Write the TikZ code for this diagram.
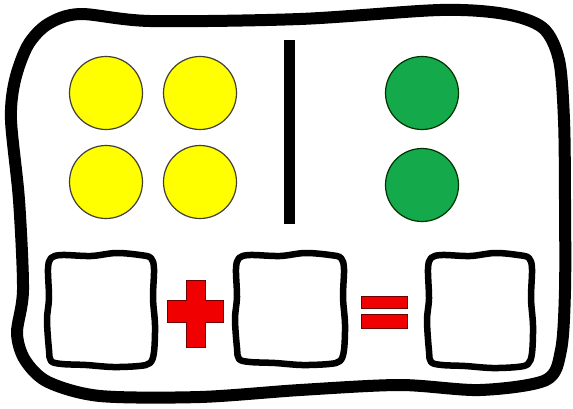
\documentclass[tikz,border=0pt]{standalone}
\usepackage{tikz}
\definecolor{dotyellow}{RGB}{255,255,0}
\definecolor{dotgreen}{RGB}{20,170,75}
\definecolor{signred}{RGB}{240,0,0}
\definecolor{signedge}{RGB}{110,0,0}
\tikzset{
  yellowdot/.style={circle, draw=black!85!yellow, line width=1.2pt, fill=dotyellow, minimum size=73pt, inner sep=0pt},
  greendot/.style={circle, draw=black!80!green, line width=1.2pt, fill=dotgreen, minimum size=73pt, inner sep=0pt},
  frameline/.style={line width=12pt, line join=round, line cap=round},
  boxline/.style={line width=6.5pt, line join=round},
  signshape/.style={fill=signred, draw=signedge, line width=1pt}
}
\newcommand{\wobblebox}[4]{% left, top, right, bottom
  \draw[boxline] plot[smooth cycle, tension=0.55] coordinates {
    ({#1+14},{#2+1}) ({(#1+#3)/2-10},{#2+2}) ({(#1+#3)/2+15},{#2-1}) ({#3-14},{#2+1})
    ({#3-3},{#2+4}) ({#3},{#2+15}) ({#3-1},{(#2+#4)/2-12}) ({#3+1},{(#2+#4)/2+15}) ({#3},{#4-14})
    ({#3-4},{#4-3}) ({#3-15},{#4}) ({(#1+#3)/2+12},{#4+1}) ({(#1+#3)/2-15},{#4-1}) ({#1+14},{#4-2})
    ({#1+3},{#4-5}) ({#1+1},{#4-16}) ({#1-1},{(#2+#4)/2+10}) ({#1+1},{(#2+#4)/2-12}) ({#1},{#2+15})
    ({#1+3},{#2+4})
  };
}
\begin{document}
\begin{tikzpicture}[x=1pt,y=-1pt]
\useasboundingbox (0,0) rectangle (573,408);
\fill[white] (0,0) rectangle (573,408);
% outer frame
\draw[frameline] plot[smooth cycle, tension=0.5] coordinates {
  (80,14) (150,21) (300,19) (440,10) (505,14) (543,28) (559,60) (564,120) (565,200) (565,290) (561,350)
  (546,380) (480,390) (400,385) (300,390) (200,397) (100,396) (48,382) (25,360) (17,333) (23,290)
  (19,200) (11,120) (15,80) (28,45) (48,24)
};
% dots
\node[yellowdot] (y1) at (106,93) {};
\node[yellowdot] (y2) at (200,93) {};
\node[yellowdot] (y3) at (106,182) {};
\node[yellowdot] (y4) at (200,182) {};
\node[greendot] (g1) at (422,93) {};
\node[greendot] (g2) at (422,185) {};
% divider
\fill[black] (284,40) rectangle (295,224);
% boxes
\wobblebox{48}{254}{154}{366}
\wobblebox{236}{254}{344}{364}
\wobblebox{428}{254}{532}{367}
% plus
\path[signshape] (186,280) -- (205,280) -- (205,300) -- (223,300) -- (223,322) -- (205,322) -- (205,347)
  -- (186,347) -- (186,322) -- (167,322) -- (167,300) -- (186,300) -- cycle;
% equals
\path[signshape] (361,296) rectangle (407,308);
\path[signshape] (361,314) rectangle (407,328);
\end{tikzpicture}
\end{document}
